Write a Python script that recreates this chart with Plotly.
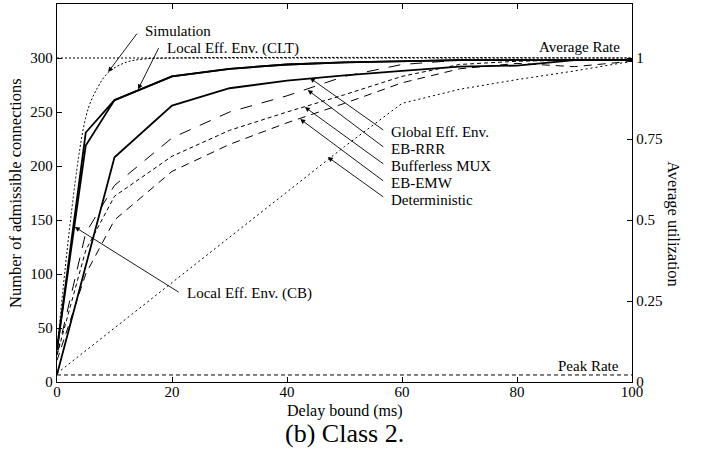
import plotly.graph_objects as go

# Delay bound (ms) sample points
delay = [0, 5, 10, 20, 30, 40, 50, 60, 70, 80, 90, 100]
delay_global = [0, 10, 20, 30, 40, 50, 60, 70, 80, 90, 100]
delay_det = [0, 10, 20, 30, 40, 50, 60, 70, 80, 90, 100]
delay_sim = [0, 5, 7, 9, 12, 15, 20, 100]

# Number of admissible connections
local_clt = [30, 231, 261, 283, 290, 294, 296, 297, 298, 298, 298, 298]
local_cb = [30, 219, 261, 283, 290, 294, 296, 297, 298, 298, 298, 298]
global_env = [7, 208, 256, 272, 279, 284, 288, 292, 293, 298, 298]
eb_rrr = [25, 138, 182, 226, 250, 265, 283, 294, 298, 298, 298, 298]
bufferless = [25, 122, 172, 209, 233, 250, 266, 283, 294, 297, 298, 298]
eb_emw = [20, 100, 150, 195, 220, 240, 258, 277, 290, 295, 292, 297]
deterministic = [8, 50, 92, 134, 176, 218, 258, 271, 280, 288, 297]
simulation = [30, 245, 272, 287, 296, 299, 300, 300]

average_rate = 300
peak_rate = 6.5

x_ticks = [0, 20, 40, 60, 80, 100]
y_ticks = [0, 50, 100, 150, 200, 250, 300]
util_ticks = [0, 0.25, 0.5, 0.75, 1]
util_labels = ["0", "0.25", "0.5", "0.75", "1"]

FONT = "Liberation Serif"
Y_MAX = 350

fig = go.Figure()


def add_line(x, y, width, dash, shape="linear"):
    fig.add_trace(go.Scatter(x=x, y=y, mode="lines", showlegend=False, hoverinfo="skip",
                             line=dict(color="black", width=width, dash=dash, shape=shape)))


# reference levels
add_line([0, 100], [average_rate, average_rate], 1, "2px,2px")
add_line([0, 100], [peak_rate, peak_rate], 1, "4px,3px")

add_line(delay_det, deterministic, 1, "2px,3px")
add_line(delay, eb_emw, 1, "8px,6px")
add_line(delay, bufferless, 1, "4px,3px")
add_line(delay, eb_rrr, 1, "12px,10px")
add_line(delay_global, global_env, 1.8, "solid")
add_line(delay, local_cb, 1.8, "solid")
add_line(delay, local_clt, 1.8, "solid")
add_line(delay_sim, simulation, 1, "2px,2px", "spline")

# secondary axis (average utilization), 1.0 == average rate
fig.add_trace(go.Scatter(x=[0], y=[0], yaxis="y2", mode="markers", opacity=0,
                         showlegend=False, hoverinfo="skip"))

ann = []


def label(x, y, text, xanchor="left"):
    ann.append(dict(x=x, y=y, xref="x", yref="y", text=text, showarrow=False,
                    xanchor=xanchor, yanchor="middle", font=dict(family=FONT, size=15, color="black")))


def arrow(x0, y0, x1, y1):
    ann.append(dict(x=x1, y=y1, ax=x0, ay=y0, xref="x", yref="y", axref="x", ayref="y",
                    text="", showarrow=True, arrowhead=2, arrowsize=1.1, arrowwidth=0.9,
                    arrowcolor="black"))


label(14.9, 325, "Simulation")
arrow(14.1, 324, 8.9, 287)
label(18.8, 309, "Local Eff. Env. (CLT)")
arrow(17.8, 310.5, 14.1, 271)
label(22.3, 81.5, "Local Eff. Env. (CB)")
arrow(21.4, 82.4, 3.1, 143.5)

label(57.7, 231.5, "Global Eff. Env.")
arrow(57.0, 232.4, 44.0, 281.5)
label(57.7, 215.7, "EB-RRR")
arrow(57.0, 216.7, 43.6, 270.4)
label(57.7, 200, "Bufferless MUX")
arrow(57.0, 201, 43.1, 254.6)
label(57.7, 184.3, "EB-EMW")
arrow(57.0, 185.2, 42.3, 243.5)
label(57.7, 168.5, "Deterministic")
arrow(57.0, 170.4, 47.1, 208.3)

label(98.3, 310, "Average Rate", "right")
label(98.1, 15, "Peak Rate", "right")

# axis titles and caption
ann.append(dict(x=0.5, y=-0.077, xref="paper", yref="paper", text="Delay bound (ms)",
                showarrow=False, xanchor="center", yanchor="middle",
                font=dict(family=FONT, size=16, color="black")))
ann.append(dict(x=0.5, y=-0.135, xref="paper", yref="paper", text="(b) Class 2.",
                showarrow=False, xanchor="center", yanchor="middle",
                font=dict(family=FONT, size=26, color="black")))
ann.append(dict(x=-0.073, y=0.5, xref="paper", yref="paper", text="Number of admissible connections",
                showarrow=False, textangle=-90, xanchor="center", yanchor="middle",
                font=dict(family=FONT, size=16.5, color="black")))
ann.append(dict(x=1.071, y=0.418, xref="paper", yref="paper", text="Average utilization",
                showarrow=False, textangle=90, xanchor="center", yanchor="middle",
                font=dict(family=FONT, size=16.5, color="black")))

axis_common = dict(showgrid=False, zeroline=False, showline=True, linecolor="black", linewidth=1.3,
                   ticks="inside", ticklen=5, tickwidth=1, tickcolor="black",
                   tickfont=dict(family=FONT, size=15, color="black"))

fig.update_layout(
    width=711, height=455,
    margin=dict(l=57, r=79, t=4, b=73),
    paper_bgcolor="white", plot_bgcolor="white",
    xaxis=dict(range=[0, 100], tickvals=x_ticks, mirror="ticks", ticklabelstandoff=-4, **axis_common),
    yaxis=dict(range=[0, Y_MAX], tickvals=y_ticks, mirror=False, **axis_common),
    yaxis2=dict(overlaying="y", side="right", range=[0, Y_MAX / average_rate],
                tickvals=util_ticks, ticktext=util_labels, **axis_common),
    annotations=ann,
)

fig.write_html("out.html")
